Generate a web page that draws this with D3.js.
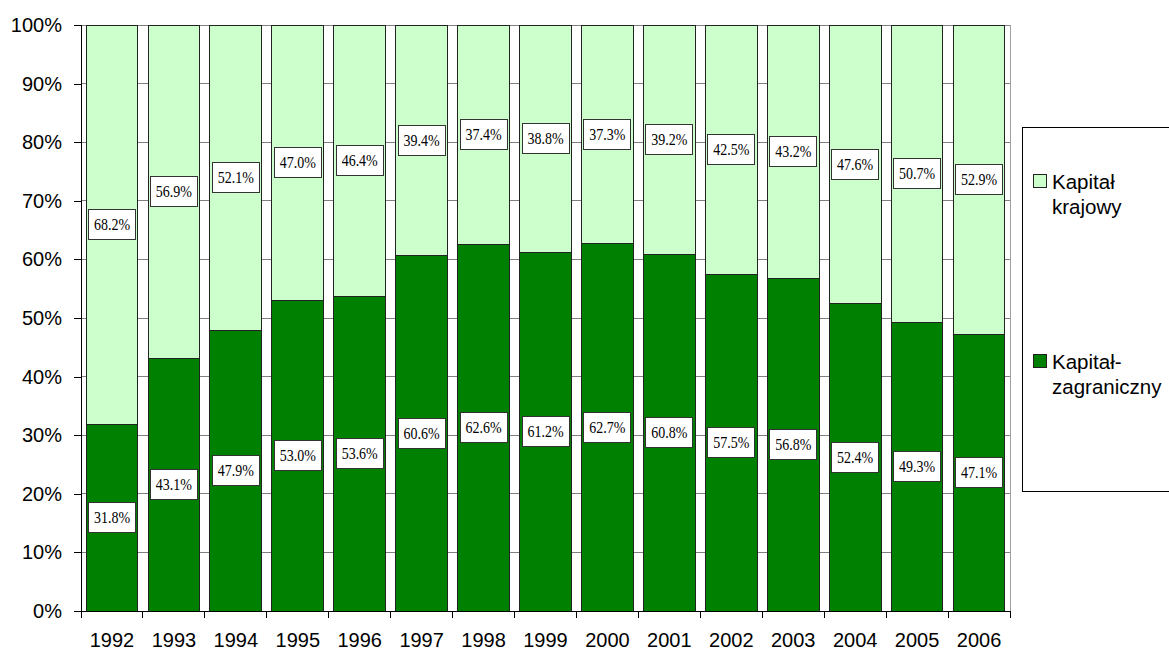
<!DOCTYPE html>
<html>
<head>
<meta charset="utf-8">
<script src="https://cdn.jsdelivr.net/npm/d3@7"></script>
<style>
  html, body { margin: 0; padding: 0; background: #fff; }
  svg { display: block; }
</style>
</head>
<body>
<svg id="chart" width="1169" height="650"></svg>
<script>
// Udział kapitału zagranicznego i krajowego, 1992–2006 (%)
const years = ["1992","1993","1994","1995","1996","1997","1998","1999","2000","2001","2002","2003","2004","2005","2006"];
const foreign = [31.8, 43.1, 47.9, 53.0, 53.6, 60.6, 62.6, 61.2, 62.7, 60.8, 57.5, 56.8, 52.4, 49.3, 47.1];
const domestic = [68.2, 56.9, 52.1, 47.0, 46.4, 39.4, 37.4, 38.8, 37.3, 39.2, 42.5, 43.2, 47.6, 50.7, 52.9];
const legendLines = [["Kapitał", "krajowy"], ["Kapitał-", "zagraniczny"]];
const yTicks = [0, 10, 20, 30, 40, 50, 60, 70, 80, 90, 100];

const colors = { foreign: "#008000", domestic: "#CCFFCC" };
const sansFont = "'Liberation Sans', Arial, sans-serif";
const serifFont = "'Liberation Serif', 'Times New Roman', serif";

const svg = d3.select("#chart");
const plotL = 81, plotR = 1010, plotT = 25, plotB = 611;

const x = d3.scaleBand().domain(years).range([plotL, plotR]).paddingInner(0.165).paddingOuter(0.0825);
const y = d3.scaleLinear().domain([0, 100]).range([plotB, plotT]);

// horizontal gridlines
svg.append("g")
  .selectAll("line")
  .data(yTicks.filter(d => d > 0))
  .join("line")
  .attr("x1", plotL).attr("x2", plotR)
  .attr("y1", d => y(d)).attr("y2", d => y(d))
  .attr("stroke", "#808080").attr("stroke-width", 1)
  .attr("shape-rendering", "crispEdges");

// right border of the plot area
svg.append("line")
  .attr("x1", plotR).attr("x2", plotR).attr("y1", plotT).attr("y2", plotB)
  .attr("stroke", "#a0a0a0").attr("shape-rendering", "crispEdges");

const rows = years.map((yr, i) => ({ year: yr, foreign: foreign[i], domestic: domestic[i] }));
const stack = d3.stack().keys(["foreign", "domestic"])(rows);

const layers = svg.append("g").selectAll("g")
  .data(stack)
  .join("g")
  .attr("fill", d => colors[d.key]);

layers.selectAll("rect")
  .data(d => d)
  .join("rect")
  .attr("x", d => x(d.data.year))
  .attr("width", x.bandwidth())
  .attr("y", d => y(d[1]))
  .attr("height", d => y(d[0]) - y(d[1]))
  .attr("stroke", "#222")
  .attr("stroke-width", 1)
  .attr("shape-rendering", "crispEdges");

// value labels in white boxes, centred on each segment
const labelG = svg.append("g");
stack.forEach(layer => {
  layer.forEach(d => {
    const v = d.data[layer.key];
    const cx = x(d.data.year) + x.bandwidth() / 2;
    const cy = y((d[0] + d[1]) / 2);
    const g = labelG.append("g").attr("transform", `translate(${cx},${cy})`);
    const w = 47, h = 30;
    g.append("rect")
      .attr("x", -w / 2).attr("y", -h / 2)
      .attr("width", w).attr("height", h)
      .attr("fill", "#fff").attr("stroke", "#333").attr("stroke-width", 1)
      .attr("shape-rendering", "crispEdges");
    g.append("text")
      .attr("transform", "scale(1,1.15)")
      .attr("text-anchor", "middle")
      .attr("dominant-baseline", "central")
      .attr("font-family", serifFont)
      .attr("font-size", 14)
      .attr("fill", "#000")
      .text(v.toFixed(1) + "%");
  });
});

// y axis
const yAxis = svg.append("g")
  .attr("transform", `translate(${plotL},0)`)
  .call(d3.axisLeft(y).tickValues(yTicks).tickFormat(d => d + "%").tickSize(7).tickPadding(12));
yAxis.select(".domain").attr("stroke", "#000").attr("shape-rendering", "crispEdges");
yAxis.selectAll(".tick line").attr("stroke", "#000").attr("shape-rendering", "crispEdges");
yAxis.selectAll("text")
  .attr("font-family", sansFont)
  .attr("font-size", 20).attr("fill", "#000");

// x axis with ticks on category boundaries
const xAxisG = svg.append("g").attr("transform", `translate(0,${plotB})`);
xAxisG.append("line")
  .attr("x1", plotL).attr("x2", plotR).attr("y1", 0).attr("y2", 0)
  .attr("stroke", "#000").attr("shape-rendering", "crispEdges");
const boundaries = d3.range(years.length + 1).map(i => plotL + i * x.step());
xAxisG.selectAll("line.tk")
  .data(boundaries)
  .join("line")
  .attr("class", "tk")
  .attr("x1", d => d).attr("x2", d => d)
  .attr("y1", 0).attr("y2", 7)
  .attr("stroke", "#000").attr("shape-rendering", "crispEdges");
xAxisG.selectAll("text")
  .data(years)
  .join("text")
  .attr("x", d => x(d) + x.bandwidth() / 2)
  .attr("y", 36)
  .attr("text-anchor", "middle")
  .attr("font-family", sansFont)
  .attr("font-size", 20)
  .attr("fill", "#000")
  .text(d => d);

// legend
const legend = svg.append("g");
legend.append("rect")
  .attr("x", 1022.5).attr("y", 127.5).attr("width", 160).attr("height", 364)
  .attr("fill", "#fff").attr("stroke", "#000").attr("stroke-width", 1);
const legendItems = [
  { color: colors.domestic, lines: legendLines[0], base: 189 },
  { color: colors.foreign, lines: legendLines[1], base: 369 }
];
legendItems.forEach(it => {
  legend.append("rect")
    .attr("x", 1033.5).attr("y", it.base - 14.5).attr("width", 13).attr("height", 13)
    .attr("fill", it.color).attr("stroke", "#222").attr("stroke-width", 1);
  const t = legend.append("text")
    .attr("font-family", sansFont)
    .attr("font-size", 20.5).attr("fill", "#000");
  it.lines.forEach((ln, j) => {
    t.append("tspan").attr("x", 1052).attr("y", it.base + j * 25).text(ln);
  });
});
</script>
</body>
</html>
